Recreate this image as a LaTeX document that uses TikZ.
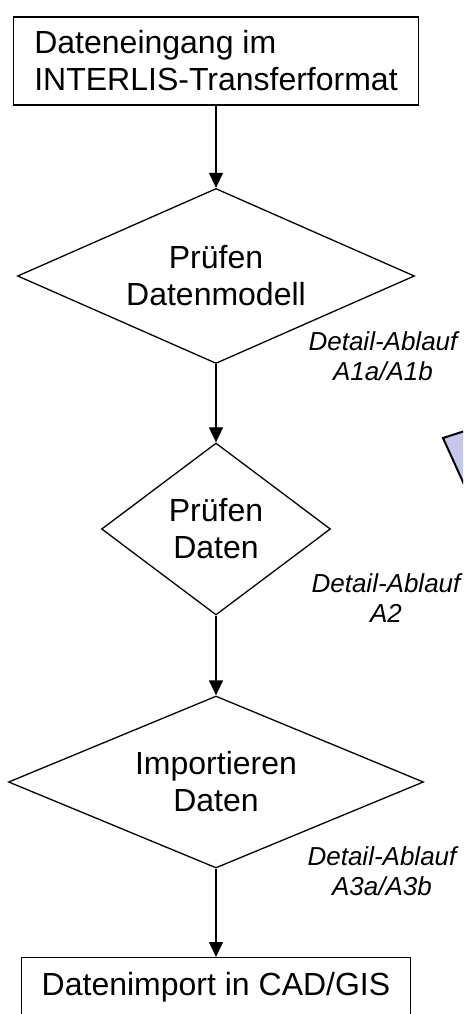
\documentclass[tikz,border=0pt]{standalone}
\usepackage{fontspec}
\setmainfont{Liberation Sans}
\usetikzlibrary{shapes.geometric,arrows.meta}
\definecolor{lavender}{RGB}{198,198,236}

\begin{document}
\begin{tikzpicture}[x=1pt,y=-1pt,
    every node/.style={font=\fontsize{32}{37}\selectfont},
    box/.style={draw,line width=1.3pt,inner sep=0pt},
    check/.style={draw,diamond,line width=1.3pt,inner sep=0pt,align=center},
    detail/.style={align=center,font=\fontsize{26}{30}\selectfont\itshape},
    arr/.style={line width=1.3pt,-{Triangle[length=15pt,width=14pt]}}]
    \useasboundingbox (0,0) rectangle (463,1014);
    % Eingang
    \node[box,minimum width=405pt,minimum height=88pt,align=left] (eingang) at (216,61)
      {Dateneingang im\\INTERLIS-Transferformat};
    % Pruefschritte
    \node[check,aspect=2.27,minimum width=397pt,minimum height=175pt] (modell) at (216,276)
      {Pr\"ufen\\Datenmodell};
    \node[check,aspect=1.33,minimum width=229pt,minimum height=172pt] (daten) at (216,529)
      {Pr\"ufen\\Daten};
    \node[check,aspect=2.41,minimum width=415pt,minimum height=172pt] (import) at (216,782)
      {Importieren\\Daten};
    \node[detail] (detailA) at (383,356) {Detail-Ablauf\\A1a/A1b};
    \node[detail] (detailB) at (386,598) {Detail-Ablauf\\A2};
    \node[detail] (detailC) at (382,871) {Detail-Ablauf\\A3a/A3b};
    % Ziel, unten abgeschnitten
    \node[box,minimum width=389pt,anchor=north,text height=38pt,text depth=50pt] (cadgis)
      at (216,957) {Datenimport in CAD/GIS};
    \draw[arr] (eingang) -- (modell);
    \draw[arr] (modell) -- (daten);
    \draw[arr] (daten) -- (import);
    \draw[arr] (import) -- (cadgis);
    % Rest einer Figur am rechten Rand
    \begin{scope}
      \clip (0,0) rectangle (463,1014);
      \draw[line width=2pt,fill=lavender] (443,438) -- (530,410) -- (570,498) -- (483,526) -- cycle;
    \end{scope}
\end{tikzpicture}
\end{document}
